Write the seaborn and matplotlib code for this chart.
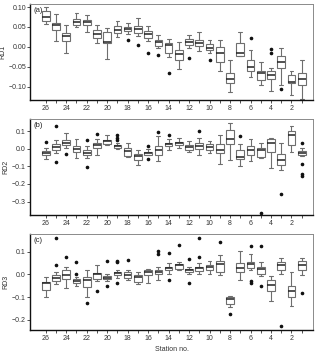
import numpy as np
import pandas as pd
import seaborn as sns
import matplotlib.pyplot as plt

# stations from left (26) to right (1)
stations = list(range(26, 0, -1))

# ---- RD1 summary stats (low whisker, q1, median, q3, high whisker)
rd1_lo = [0.058, 0.015, -0.015, 0.049, 0.037, 0.010, -0.030, 0.024, 0.032, 0.026, 0.015, -0.004, -0.026,
          -0.056, -0.004, -0.011, -0.015, -0.062, -0.114, -0.023, -0.075, -0.097, -0.091, -0.095, -0.103, -0.131]
rd1_q1 = [0.065, 0.041, 0.014, 0.056, 0.054, 0.023, 0.009, 0.034, 0.039, 0.034, 0.022, 0.003, -0.015,
          -0.034, 0.004, 0.003, -0.009, -0.039, -0.091, -0.022, -0.060, -0.084, -0.082, -0.054, -0.092, -0.097]
rd1_med = [0.076, 0.056, 0.026, 0.063, 0.062, 0.033, 0.013, 0.043, 0.045, 0.045, 0.032, 0.011, 0.004,
           -0.017, 0.011, 0.009, -0.004, -0.016, -0.080, -0.016, -0.052, -0.065, -0.071, -0.039, -0.088, -0.080]
rd1_q3 = [0.089, 0.059, 0.034, 0.069, 0.067, 0.043, 0.037, 0.053, 0.049, 0.053, 0.039, 0.016, 0.009,
          -0.007, 0.020, 0.017, 0.006, -0.001, -0.067, 0.009, -0.033, -0.060, -0.062, -0.022, -0.072, -0.066]
rd1_hi = [0.099, 0.082, 0.056, 0.084, 0.079, 0.056, 0.047, 0.065, 0.060, 0.073, 0.053, 0.030, 0.020,
          0.013, 0.030, 0.036, 0.016, 0.017, -0.032, 0.036, -0.009, -0.037, -0.054, -0.004, -0.060, -0.034]
rd1_out = {18: [0.017], 17: [0.004], 16: [-0.016], 15: [-0.020], 14: [-0.067], 12: [-0.028],
           10: [-0.033], 6: [0.022], 4: [-0.006, -0.016, -0.112], 3: [-0.106], 2: [-0.121]}

# ---- RD2
rd2_lo = [-0.058, -0.025, 0.006, -0.052, -0.052, -0.013, 0.019, -0.004, -0.046, -0.094, -0.058, -0.071, -0.010,
          0.006, -0.019, -0.033, -0.023, -0.087, -0.062, -0.100, -0.067, -0.052, -0.110, -0.119, -0.017, -0.042]
rd2_q1 = [-0.038, -0.010, 0.021, -0.017, -0.038, 0.006, 0.029, 0.006, -0.042, -0.062, -0.033, -0.033, 0.015,
          0.019, -0.010, 0.000, -0.008, -0.023, 0.025, -0.056, -0.033, -0.048, -0.017, -0.094, 0.019, -0.038]
rd2_med = [-0.027, 0.010, 0.035, 0.000, -0.025, 0.019, 0.042, 0.013, -0.013, -0.042, -0.025, -0.008, 0.025,
           0.031, 0.010, 0.015, 0.010, -0.008, 0.054, -0.048, -0.008, -0.008, 0.031, -0.062, 0.079, -0.023]
rd2_q3 = [-0.013, 0.029, 0.048, 0.015, -0.010, 0.035, 0.050, 0.019, 0.002, -0.029, -0.017, 0.015, 0.035,
          0.040, 0.021, 0.031, 0.025, 0.025, 0.108, -0.010, 0.015, 0.002, 0.054, -0.029, 0.098, -0.013]
rd2_hi = [0.006, 0.050, 0.087, 0.054, 0.015, 0.054, 0.079, 0.035, 0.031, -0.010, -0.004, 0.073, 0.054,
          0.063, 0.044, 0.063, 0.044, 0.079, 0.146, 0.025, 0.054, 0.035, 0.060, 0.035, 0.131, 0.002]
rd2_out = {26: [0.038], 25: [0.129, -0.077], 24: [-0.029], 22: [0.048, -0.104], 21: [0.083, -0.037],
           19: [0.077, 0.063, 0.050], 16: [0.015], 15: [0.096], 14: [0.079], 11: [0.102],
           7: [0.073], 5: [-0.365], 3: [-0.258], 1: [0.031, -0.085, -0.142, -0.154]}

# ---- RD3
rd3_lo = [-0.102, -0.044, -0.059, -0.044, -0.100, -0.031, -0.029, -0.015, -0.026, -0.044, -0.037, -0.026, 0.003,
          0.018, 0.003, 0.003, 0.003, -0.004, -0.143, -0.023, 0.020, -0.009, -0.117, 0.003, -0.141, -0.004]
rd3_q1 = [-0.067, -0.029, -0.019, -0.037, -0.056, -0.019, -0.022, -0.004, -0.015, -0.034, -0.004, 0.000, 0.018,
          0.025, 0.010, 0.015, 0.018, 0.010, -0.129, 0.010, 0.029, 0.003, -0.073, 0.020, -0.100, 0.018]
rd3_med = [-0.038, -0.016, -0.004, -0.029, -0.023, 0.003, -0.015, 0.006, -0.004, -0.012, 0.010, 0.010, 0.028,
           0.040, 0.018, 0.028, 0.032, 0.047, -0.111, 0.028, 0.047, 0.022, -0.048, 0.040, -0.075, 0.042]
rd3_q3 = [-0.034, -0.004, 0.018, -0.022, -0.012, 0.006, -0.009, 0.013, 0.010, -0.004, 0.018, 0.020, 0.035,
          0.047, 0.025, 0.035, 0.044, 0.061, -0.102, 0.050, 0.054, 0.035, -0.023, 0.054, -0.053, 0.061]
rd3_hi = [-0.012, 0.010, 0.032, -0.012, 0.018, 0.040, 0.003, 0.020, 0.020, 0.010, 0.025, 0.035, 0.050,
          0.054, 0.032, 0.050, 0.059, 0.088, -0.097, 0.105, 0.091, 0.054, -0.007, 0.073, 0.010, 0.073]
rd3_out = {25: [0.161, 0.042], 24: [0.079], 23: [0.057, 0.003, -0.053], 22: [-0.126], 21: [-0.075],
           20: [0.061, -0.051], 19: [0.061, 0.054, -0.037], 18: [0.064], 15: [0.105, 0.091],
           14: [0.097, -0.023], 13: [0.132], 12: [0.069, -0.038], 11: [0.161, 0.076], 9: [0.146],
           8: [-0.177], 6: [0.127, -0.029, -0.037], 5: [0.127, -0.053], 3: [-0.228], 1: [-0.082]}


def build_frame(lo, q1, med, q3, hi, out):
    # rebuild a sample per station that reproduces the drawn box statistics
    rows = []
    for i, st in enumerate(stations):
        vals = [lo[i], hi[i]] + [q1[i]] * 6 + [med[i]] * 6 + [q3[i]] * 6 + out.get(st, [])
        for v in vals:
            rows.append({"station": str(st), "value": v})
    return pd.DataFrame(rows)


panels = [
    ("RD1", "(a)", build_frame(rd1_lo, rd1_q1, rd1_med, rd1_q3, rd1_hi, rd1_out),
     (-0.134, 0.107), [-0.10, -0.05, 0.00, 0.05, 0.10], "{:.2f}"),
    ("RD2", "(b)", build_frame(rd2_lo, rd2_q1, rd2_med, rd2_q3, rd2_hi, rd2_out),
     (-0.377, 0.167), [-0.3, -0.2, -0.1, 0.0, 0.1], "{:.1f}"),
    ("RD3", "(c)", build_frame(rd3_lo, rd3_q1, rd3_med, rd3_q3, rd3_hi, rd3_out),
     (-0.247, 0.178), [-0.2, -0.1, 0.0, 0.1], "{:.1f}"),
]

sns.set_style("ticks")
plt.rcParams['font.family'] = ['Liberation Sans', 'DejaVu Sans']

fig, axes = plt.subplots(3, 1, figsize=(3.2, 3.52), dpi=100)
fig.subplots_adjust(left=0.095, right=0.978, top=0.988, bottom=0.062, hspace=0.2)

order = [str(s) for s in stations]
for ax, (ylab, tag, df, ylim, yticks, fmt) in zip(axes, panels):
    sns.boxplot(data=df, x="station", y="value", order=order, ax=ax, width=0.75,
                color="white", linecolor="#6e6e6e", linewidth=0.8,
                medianprops={"color": "#222222", "linewidth": 1.1},
                flierprops={"marker": "o", "markersize": 1.6, "markerfacecolor": "#111111",
                            "markeredgecolor": "#111111"})
    ax.set_xlim(-1.5, 26.1)
    ax.set_ylim(*ylim)
    ax.set_yticks(yticks)
    ax.set_yticklabels([fmt.format(t).replace("-", "\u2212") for t in yticks])
    ax.set_xticks(range(len(stations)))
    ax.set_xticklabels([s if int(s) % 2 == 0 else "" for s in order])
    ax.tick_params(axis="both", labelsize=5, length=2, width=0.6, pad=1.2, colors="#333333")
    ax.set_ylabel(ylab, fontsize=5, labelpad=1.5, color="#333333")
    ax.set_xlabel("")
    ax.text(0.012, 0.97, tag, transform=ax.transAxes, ha="left", va="top", fontsize=5.5, color="#222222")
    for side in ["top", "right"]:
        ax.spines[side].set_color("#8a8a8a")
        ax.spines[side].set_linewidth(0.7)
    for side in ["left", "bottom"]:
        ax.spines[side].set_color("#111111")
        ax.spines[side].set_linewidth(1.0)

axes[-1].set_xlabel("Station no.", fontsize=5, labelpad=3, color="#333333")

plt.savefig("out.png", dpi=100)
